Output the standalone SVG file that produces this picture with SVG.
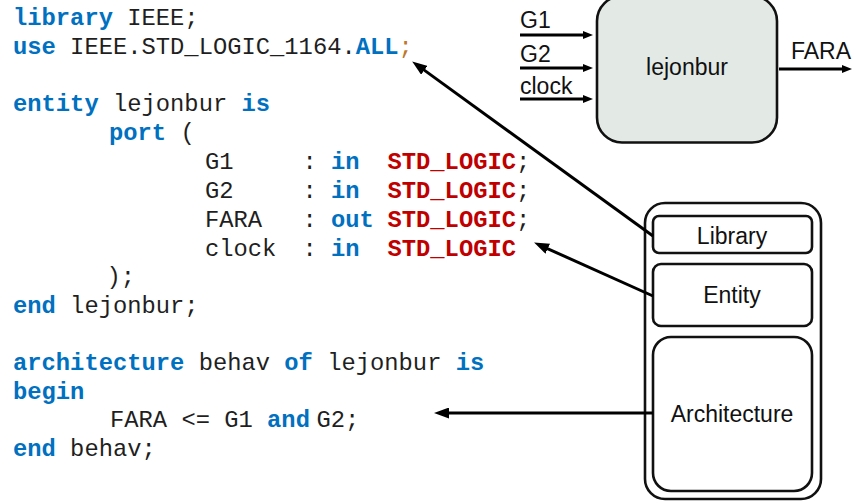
<svg xmlns="http://www.w3.org/2000/svg" width="856" height="503" viewBox="0 0 856 503">
  <style>
    .code { font-family: "Liberation Mono", "Courier New", monospace; font-size: 23.8px; fill: #1f1f1f; white-space: pre; }
    .kw { fill: #0070C0; font-weight: bold; }
    .ty { fill: #C00000; font-weight: bold; }
    .semi { fill: #C0782A; }
    .lbl { font-family: "Liberation Sans", Arial, sans-serif; font-size: 23px; fill: #111; }
    .box { fill: #ffffff; stroke: #111; stroke-width: 2.6; }
    .wire { fill: none; stroke: #000; stroke-width: 3; }
  </style>
  <defs>
    <marker id="head" markerUnits="userSpaceOnUse" viewBox="0 0 15 11" markerWidth="15" markerHeight="11" refX="4" refY="5.5" orient="auto">
      <path d="M0,0 L15,5.5 L0,11 z" fill="#000"/>
    </marker>
    <marker id="pin" markerUnits="userSpaceOnUse" viewBox="0 0 10 8" markerWidth="10" markerHeight="8" refX="3" refY="4" orient="auto">
      <path d="M0,0 L10,4 L0,8 z" fill="#000"/>
    </marker>
  </defs>

  <!-- VHDL source listing -->
  <g id="code" class="code">
    <text x="13" y="25"><tspan class="kw">library</tspan> IEEE;</text>
    <text x="13" y="54"><tspan class="kw">use</tspan> IEEE.STD_LOGIC_1164.<tspan class="kw">ALL</tspan><tspan class="semi">;</tspan></text>
    <text x="13" y="111"><tspan class="kw">entity</tspan> lejonbur <tspan class="kw">is</tspan></text>
    <text x="109" y="140"><tspan class="kw">port</tspan> (</text>
    <text y="169"><tspan x="205">G1</tspan><tspan x="302.5">: </tspan><tspan class="kw">in</tspan><tspan x="387.5" class="ty">STD_LOGIC</tspan>;</text>
    <text y="198"><tspan x="205">G2</tspan><tspan x="302.5">: </tspan><tspan class="kw">in</tspan><tspan x="387.5" class="ty">STD_LOGIC</tspan>;</text>
    <text y="227"><tspan x="205">FARA</tspan><tspan x="302.5">: </tspan><tspan class="kw">out</tspan><tspan x="387.5" class="ty">STD_LOGIC</tspan>;</text>
    <text y="255.5"><tspan x="205">clock</tspan><tspan x="302.5">: </tspan><tspan class="kw">in</tspan><tspan x="387.5" class="ty">STD_LOGIC</tspan></text>
    <text x="106.5" y="284">);</text>
    <text x="13" y="312.5"><tspan class="kw">end</tspan> lejonbur;</text>
    <text x="13" y="370"><tspan class="kw">architecture</tspan> behav <tspan class="kw">of</tspan> lejonbur <tspan class="kw">is</tspan></text>
    <text x="13" y="398.5" class="kw">begin</text>
    <text y="427"><tspan x="110">FARA &lt;= G1 </tspan><tspan class="kw">and</tspan><tspan x="316.5">G2;</tspan></text>
    <text x="13" y="456"><tspan class="kw">end</tspan> behav;</text>
  </g>

  <!-- entity block symbol -->
  <g id="lejonbur">
    <rect x="597" y="-4" width="180" height="146.5" rx="25" fill="#E3EAE6" stroke="#111" stroke-width="2.6"/>
    <text class="lbl" x="687" y="75" font-size="24" text-anchor="middle">lejonbur</text>
  </g>
  <g id="port-G1">
    <text class="lbl" x="520" y="28">G1</text>
    <line class="wire" x1="520" y1="35" x2="586" y2="35" marker-end="url(#pin)"/>
  </g>
  <g id="port-G2">
    <text class="lbl" x="520" y="61.5">G2</text>
    <line class="wire" x1="520" y1="68" x2="586" y2="68" marker-end="url(#pin)"/>
  </g>
  <g id="port-clock">
    <text class="lbl" x="520" y="94">clock</text>
    <line class="wire" x1="520" y1="99" x2="586" y2="99" marker-end="url(#pin)"/>
  </g>
  <g id="port-FARA">
    <text class="lbl" x="791" y="59">FARA</text>
    <line class="wire" x1="779" y1="69" x2="845" y2="69" marker-end="url(#pin)"/>
  </g>

  <!-- design unit structure -->
  <g id="design-unit">
    <rect class="box" x="645" y="203" width="176" height="296" rx="20"/>
  </g>
  <g id="library">
    <rect class="box" x="653" y="216" width="159" height="37" rx="6"/>
    <text class="lbl" x="732" y="244" font-size="23.5" text-anchor="middle">Library</text>
  </g>
  <g id="entity">
    <rect class="box" x="653" y="264" width="159" height="62" rx="8"/>
    <text class="lbl" x="732" y="303" font-size="23.5" text-anchor="middle">Entity</text>
  </g>
  <g id="architecture">
    <rect class="box" x="653" y="337" width="159" height="154" rx="18"/>
    <text class="lbl" x="732" y="421.5" font-size="23.5" text-anchor="middle">Architecture</text>
  </g>

  <!-- pointers from structure parts to source lines -->
  <g id="connectors">
    <line class="wire" x1="653" y1="236" x2="421.1" y2="67.9" marker-end="url(#head)"/>
    <line class="wire" x1="653" y1="296" x2="544.1" y2="247.1" marker-end="url(#head)"/>
    <line class="wire" x1="653" y1="413" x2="445" y2="413" marker-end="url(#head)"/>
  </g>
</svg>
